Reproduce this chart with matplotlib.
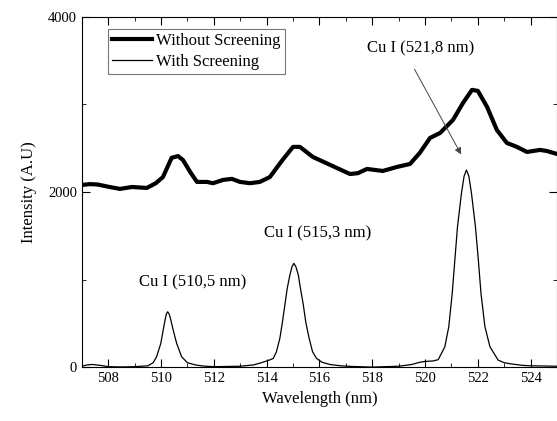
import matplotlib
matplotlib.use("Agg")
import matplotlib.pyplot as plt
from matplotlib.ticker import MultipleLocator

plt.rcParams['font.family'] = ['Liberation Serif', 'DejaVu Serif']

# without screening (thick line)
wl_no = [507.0, 507.3, 507.6, 508.0, 508.44, 508.9, 509.46, 509.8, 510.07, 510.4,
         510.64, 510.83, 511.1, 511.36, 511.74, 511.97, 512.34, 512.68, 512.99, 513.37,
         513.74, 514.12, 514.6, 515.0, 515.26, 515.75, 516.4, 517.16, 517.46, 517.8,
         518.4, 518.94, 519.43, 519.8, 520.19, 520.57, 521.06, 521.44, 521.78, 522.0,
         522.35, 522.72, 523.1, 523.48, 523.86, 524.35, 524.6, 525.0]
int_no = [2080, 2090, 2085, 2060, 2035, 2057, 2046, 2100, 2170, 2390,
          2410, 2365, 2230, 2115, 2115, 2100, 2137, 2150, 2115, 2100,
          2115, 2170, 2365, 2515, 2515, 2400, 2310, 2205, 2215, 2263,
          2240, 2286, 2320, 2446, 2617, 2674, 2823, 3017, 3166, 3155,
          2972, 2709, 2560, 2515, 2457, 2480, 2469, 2434]

# with screening (thin line)
wl_sc = [507.0, 507.2, 507.4, 507.7, 508.0, 508.5, 509.0, 509.5, 509.7, 509.83,
         509.99, 510.08, 510.15, 510.2, 510.25, 510.31, 510.37, 510.46, 510.59, 510.78,
         511.0, 511.3, 511.6, 512.0, 513.0, 513.5, 513.8, 514.1, 514.25, 514.37,
         514.5, 514.6, 514.69, 514.78, 514.88, 514.96, 515.03, 515.11, 515.2, 515.28,
         515.39, 515.48, 515.61, 515.74, 515.89, 516.1, 516.4, 516.8, 517.2, 518.0,
         519.0, 519.5, 519.8, 520.0, 520.3, 520.5, 520.75, 520.9, 521.03, 521.13,
         521.23, 521.38, 521.48, 521.57, 521.66, 521.76, 521.91, 522.02, 522.12, 522.27,
         522.46, 522.77, 523.0, 523.3, 523.7, 524.0, 525.0]
int_sc = [10, 25, 30, 20, 5, 2, 5, 15, 50, 118,
          271, 423, 537, 605, 632, 605, 537, 423, 271, 118,
          50, 25, 12, 5, 10, 25, 50, 80, 99, 175,
          328, 518, 709, 900, 1051, 1145, 1185, 1145, 1051, 900,
          709, 518, 328, 175, 99, 55, 30, 15, 8, 0,
          10, 30, 55, 65, 70, 85, 232, 461, 842, 1223,
          1603, 1985, 2180, 2251, 2180, 1985, 1603, 1223, 842, 461,
          232, 80, 50, 35, 20, 15, 10]

fig = plt.figure(figsize=(5.57, 4.21), dpi=100)
ax = fig.add_axes([0.147, 0.128, 0.853, 0.832])

ax.plot(wl_no, int_no, color='black', lw=3.0, label='Without Screening')
ax.plot(wl_sc, int_sc, color='black', lw=0.9, label='With Screening')

ax.set_xlim(507, 525)
ax.set_ylim(0, 4000)
ax.xaxis.set_major_locator(MultipleLocator(2))
ax.xaxis.set_minor_locator(MultipleLocator(1))
ax.yaxis.set_major_locator(MultipleLocator(2000))
ax.yaxis.set_minor_locator(MultipleLocator(1000))
ax.tick_params(which='both', direction='in', top=True, right=True, labelsize=10.5)
ax.tick_params(which='major', length=6)
ax.tick_params(which='minor', length=3)

ax.set_xlabel('Wavelength (nm)', fontsize=12)
ax.set_ylabel('Intensity (A.U)', fontsize=12, labelpad=8)

ax.text(511.18, 970, 'Cu I (510,5 nm)', ha='center', va='center', fontsize=12)
ax.text(515.95, 1530, 'Cu I (515,3 nm)', ha='center', va='center', fontsize=12)
ax.text(519.85, 3645, 'Cu I (521,8 nm)', ha='center', va='center', fontsize=12)
ax.annotate('', xy=(521.42, 2400), xytext=(519.55, 3430),
            arrowprops=dict(arrowstyle='-|>', color='#444444', lw=0.7,
                            mutation_scale=10))

leg = ax.legend(loc='upper left', bbox_to_anchor=(0.055, 0.966), fontsize=12,
                frameon=True, fancybox=False, edgecolor='#555555',
                handlelength=2.4, borderpad=0.25, labelspacing=0.28,
                handletextpad=0.25, borderaxespad=0)
leg.get_frame().set_linewidth(0.8)

fig.savefig('out.png', dpi=100)
